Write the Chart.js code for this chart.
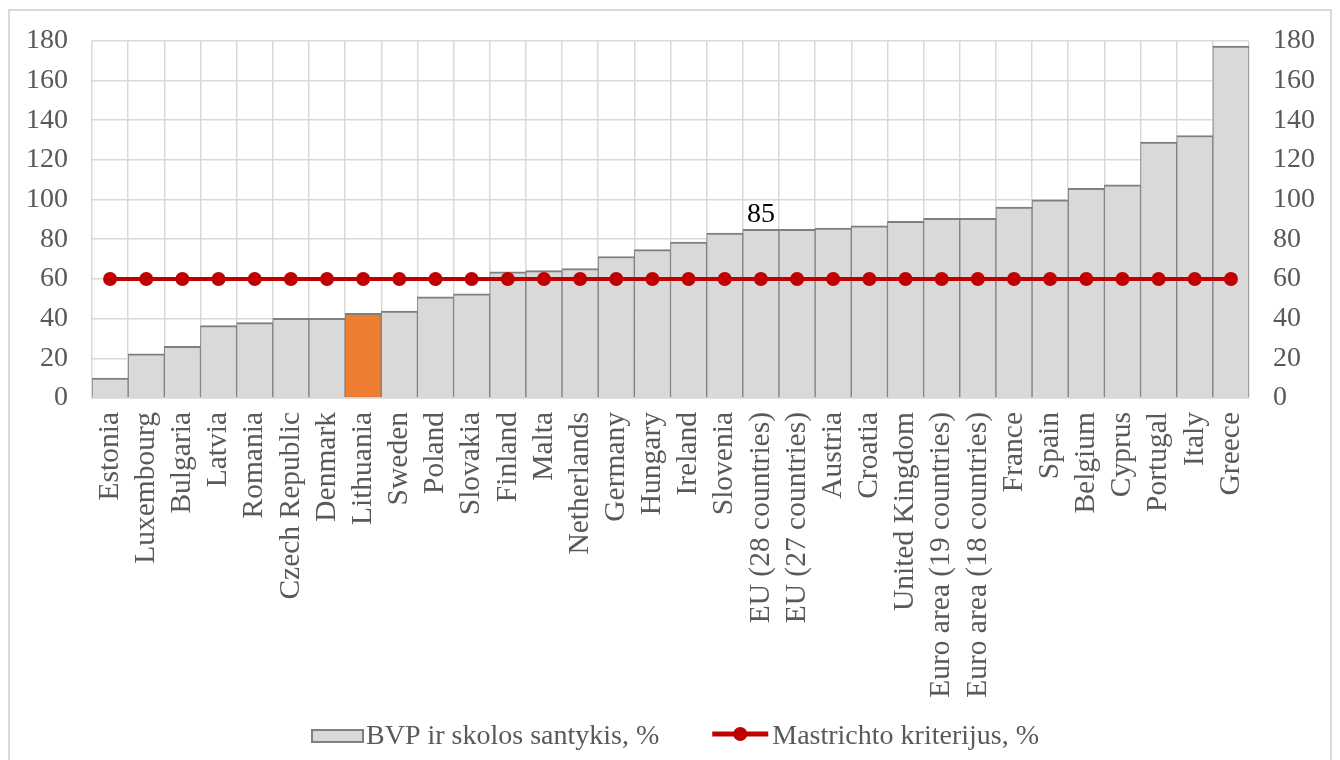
<!DOCTYPE html>
<html>
<head>
<meta charset="utf-8">
<script src="https://cdn.jsdelivr.net/npm/chart.js@4/dist/chart.umd.min.js"></script>
<style>
  html, body { margin: 0; padding: 0; background: #ffffff; overflow: hidden; }
  #wrap { position: relative; width: 1340px; height: 760px; }
  #frame {
    position: absolute; left: 8px; top: 9px; width: 1324px; height: 800px;
    box-sizing: border-box; border: 2px solid #d9d9d9; pointer-events: none;
  }
  canvas { position: absolute; left: 0; top: 0; }
</style>
</head>
<body>
<div id="wrap">
  <canvas id="chart" width="1340" height="760"></canvas>
  <div id="frame"></div>
</div>
<script>
// Government debt to GDP ratio by country, %
const categories = [
  'Estonia', 'Luxembourg', 'Bulgaria', 'Latvia', 'Romania', 'Czech Republic',
  'Denmark', 'Lithuania', 'Sweden', 'Poland', 'Slovakia', 'Finland', 'Malta',
  'Netherlands', 'Germany', 'Hungary', 'Ireland', 'Slovenia', 'EU (28 countries)',
  'EU (27 countries)', 'Austria', 'Croatia', 'United Kingdom',
  'Euro area (19 countries)', 'Euro area (18 countries)', 'France', 'Spain',
  'Belgium', 'Cyprus', 'Portugal', 'Italy', 'Greece'
];
const debtRatio = [
  10.0, 22.2, 26.1, 36.5, 38.0, 40.1,
  40.1, 42.7, 43.8, 51.0, 52.5, 63.6, 64.2,
  65.2, 71.3, 74.8, 78.6, 83.1, 85.0,
  85.0, 85.6, 86.8, 89.0,
  90.5, 90.5, 96.2, 99.9,
  105.7, 107.4, 129.0, 132.3, 177.3
];
const maastrichtLimit = categories.map(() => 60);
const yTicks = [0, 20, 40, 60, 80, 100, 120, 140, 160, 180];
const seriesNames = ['BVP ir skolos santykis, %', 'Mastrichto kriterijus, %'];
const highlighted = 'Lithuania';
const labelled = 'EU (28 countries)';

const FONT = '"Liberation Serif", "Times New Roman", serif';
const FONT_SIZE = 28;
const X_FONT_SIZE = 29.5;
const TEXT = '#595959';
const GRID = '#d9d9d9';
const BAR_FILL = '#d9d9d9';
const BAR_EDGE = '#7f7f7f';
const HIGHLIGHT = '#ed7d31';
const RED = '#c00000';

const barColors = categories.map(c => c === highlighted ? HIGHLIGHT : BAR_FILL);

// value label above one bar of the debt series
const valueLabel = {
  id: 'valueLabel',
  afterDatasetsDraw(chart) {
    const idx = categories.indexOf(labelled);
    const dsIndex = chart.data.datasets.findIndex(d => d.type === 'bar');
    const el = chart.getDatasetMeta(dsIndex).data[idx];
    if (!el) return;
    const ctx = chart.ctx;
    ctx.save();
    ctx.font = FONT_SIZE + 'px ' + FONT;
    ctx.fillStyle = '#000000';
    ctx.textAlign = 'center';
    ctx.textBaseline = 'alphabetic';
    ctx.fillText(String(Math.round(debtRatio[idx])), el.x, el.y - 7);
    ctx.restore();
  }
};

// legend at the bottom: grey swatch and red line with marker
const bottomLegend = {
  id: 'bottomLegend',
  afterDraw(chart) {
    const ctx = chart.ctx;
    ctx.save();
    ctx.font = FONT_SIZE + 'px ' + FONT;
    const swatchW = [53, 56];
    const textGap = [2, 4];
    const itemGap = 53;
    const widths = seriesNames.map((t, i) => swatchW[i] + textGap[i] + ctx.measureText(t).width);
    const total = widths[0] + itemGap + widths[1];
    let x = chart.width / 2 - total / 2 + 5;
    const cy = 736;

    // bar swatch
    ctx.fillStyle = BAR_FILL;
    ctx.fillRect(x, cy - 7, swatchW[0], 14);
    ctx.strokeStyle = BAR_EDGE;
    ctx.lineWidth = 2;
    ctx.strokeRect(x + 1, cy - 6, swatchW[0] - 2, 12);
    ctx.fillStyle = TEXT;
    ctx.textBaseline = 'middle';
    ctx.textAlign = 'left';
    ctx.fillText(seriesNames[0], x + swatchW[0] + textGap[0], cy + 1);
    x += widths[0] + itemGap;

    // line swatch
    ctx.strokeStyle = RED;
    ctx.lineWidth = 5;
    ctx.beginPath();
    ctx.moveTo(x, cy - 2);
    ctx.lineTo(x + swatchW[1], cy - 2);
    ctx.stroke();
    ctx.fillStyle = RED;
    ctx.beginPath();
    ctx.arc(x + swatchW[1] / 2, cy - 2, 7, 0, Math.PI * 2);
    ctx.fill();
    ctx.fillStyle = TEXT;
    ctx.fillText(seriesNames[1], x + swatchW[1] + textGap[1], cy + 1);
    ctx.restore();
  }
};

const yAxisCommon = {
  min: 0,
  max: 180,
  afterBuildTicks(scale) { scale.ticks = yTicks.map(v => ({ value: v })); },
  ticks: { color: TEXT, font: { family: FONT, size: FONT_SIZE }, padding: 24 },
  border: { display: false }
};

new Chart(document.getElementById('chart'), {
  data: {
    labels: categories,
    datasets: [
      {
        type: 'line',
        label: seriesNames[1],
        data: maastrichtLimit,
        borderColor: RED,
        backgroundColor: RED,
        borderWidth: 4,
        pointRadius: 7,
        pointBackgroundColor: RED,
        pointBorderWidth: 0,
        order: 0,
        yAxisID: 'y'
      },
      {
        type: 'bar',
        label: seriesNames[0],
        data: debtRatio,
        backgroundColor: barColors,
        borderColor: BAR_EDGE,
        borderWidth: { top: 2, left: 1, right: 1, bottom: 0 },
        borderSkipped: false,
        barPercentage: 1,
        categoryPercentage: 1,
        order: 1,
        yAxisID: 'y'
      }
    ]
  },
  options: {
    responsive: false,
    animation: false,
    layout: { padding: { top: 39, bottom: 62, left: 0, right: 0 } },
    plugins: {
      legend: { display: false },
      tooltip: { enabled: false }
    },
    scales: {
      x: {
        type: 'category',
        offset: true,
        grid: { color: GRID, lineWidth: 1.5, offset: true, drawTicks: false },
        border: { color: GRID, width: 1.5 },
        ticks: {
          color: TEXT,
          font: { family: FONT, size: X_FONT_SIZE },
          minRotation: 90,
          maxRotation: 90,
          padding: 14,
          autoSkip: false
        },
        afterFit(scale) { scale.height = 300; }
      },
      y: Object.assign({}, yAxisCommon, {
        position: 'left',
        grid: { color: GRID, lineWidth: 1.5, drawTicks: false },
        afterFit(scale) { scale.width = 92; }
      }),
      y2: Object.assign({}, yAxisCommon, {
        position: 'right',
        grid: { drawOnChartArea: false, drawTicks: false },
        afterFit(scale) { scale.width = 91; }
      })
    }
  },
  plugins: [valueLabel, bottomLegend]
});
</script>
</body>
</html>
